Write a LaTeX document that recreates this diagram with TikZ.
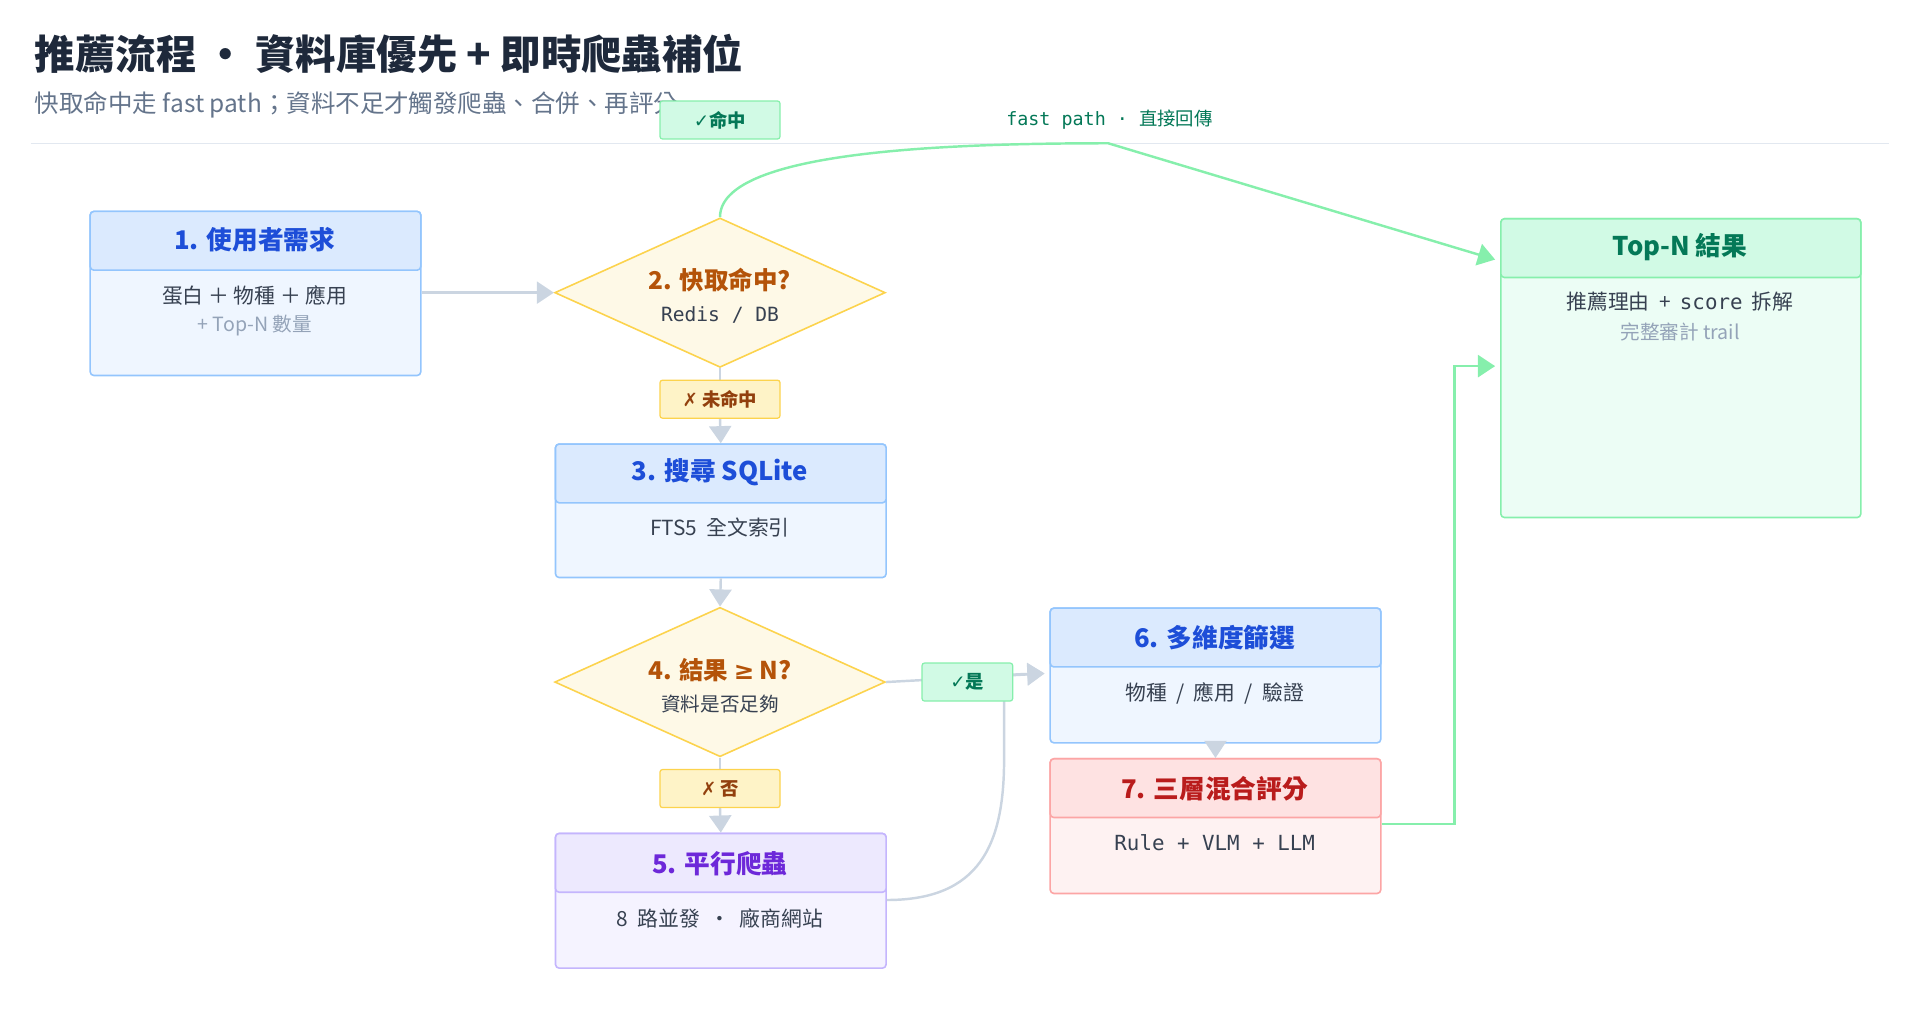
\documentclass[tikz,border=0pt]{standalone}
\usepackage{fontspec}
\setmainfont{Noto Sans CJK TC}
\newfontfamily\monof{DejaVu Sans Mono}
\newfontfamily\symf{DejaVu Sans}
\usetikzlibrary{arrows.meta,shapes.geometric}
\definecolor{bluebd}{HTML}{93C5FD}\definecolor{bluehd}{HTML}{DBEAFE}\definecolor{bluebg}{HTML}{EFF6FF}\definecolor{bluetx}{HTML}{1D4ED8}
\definecolor{purpbd}{HTML}{C4B5FD}\definecolor{purphd}{HTML}{EDE9FE}\definecolor{purpbg}{HTML}{F5F3FF}\definecolor{purptx}{HTML}{6D28D9}
\definecolor{redbd}{HTML}{FCA5A5}\definecolor{redhd}{HTML}{FEE2E2}\definecolor{redbg}{HTML}{FEF2F2}\definecolor{redtx}{HTML}{B91C1C}
\definecolor{grnbd}{HTML}{86EFAC}\definecolor{grnhd}{HTML}{D1FAE5}\definecolor{grnbg}{HTML}{ECFDF5}\definecolor{grntx}{HTML}{047857}
\definecolor{ylwbd}{HTML}{FCD34D}\definecolor{ylwbg}{HTML}{FEF9E7}\definecolor{ylwtag}{HTML}{FEF3C7}\definecolor{ylwtx}{HTML}{B45309}\definecolor{ylwtg}{HTML}{92400E}
\definecolor{ink}{HTML}{1E293B}\definecolor{body}{HTML}{374151}\definecolor{mute}{HTML}{94A3B8}\definecolor{sub}{HTML}{64748B}\definecolor{wire}{HTML}{CBD5E1}\definecolor{rule}{HTML}{E2E8F0}
\begin{document}
\begin{tikzpicture}[x=1pt,y=-1pt,
  box/.style={draw=#1bd, fill=#1bg, line width=1.3pt, rounded corners=3pt, anchor=north west, minimum width=270pt, inner sep=0pt},
  head/.style={draw=#1bd, fill=#1hd, line width=1.3pt, rounded corners=3pt, anchor=north west, minimum width=270pt, minimum height=48pt, inner sep=0pt},
  ttl/.style={text=#1tx, font=\fontsize{21}{24}\selectfont\bfseries},
  txt/.style={text=body, font=\fontsize{17}{20}\selectfont},
  dec/.style={diamond, draw=ylwbd, fill=ylwbg, line width=1.3pt, minimum width=270pt, minimum height=122pt, inner sep=0pt, aspect=2.2},
  tag/.style={draw=#1bd, fill=#1hd, rounded corners=2pt, line width=1pt, minimum width=98pt, minimum height=31pt, inner sep=0pt, font=\fontsize{15}{18}\selectfont\bfseries},
  flow/.style={draw=wire, line width=2pt, -{Triangle[length=14pt,width=18pt]}},
  fast/.style={draw=grnbd, line width=2pt, -{Triangle[length=14pt,width=18pt]}}]
\useasboundingbox (0,0) rectangle (1568,840);
\colorlet{ylwhd}{ylwtag}
% title
\node[anchor=base west, text=ink, font=\fontsize{33}{36}\selectfont\bfseries] at (25,57) {推薦流程 ・ 資料庫優先 + 即時爬蟲補位};
\node[anchor=base west, text=sub, font=\fontsize{20}{24}\selectfont] at (25,92) {快取命中走 fast path；資料不足才觸發爬蟲、合併、再評分};
\draw[rule, line width=1pt] (25,117) -- (1543,117);
% boxes
\node[box=blue, minimum height=134pt] (b1) at (73,172) {};
\node[head=blue] (h1) at (73,172) {};
\node[ttl=blue] at (208,196) {1. 使用者需求};
\node[txt] at (208,241) {蛋白 ＋ 物種 ＋ 應用};
\node[text=mute, font=\fontsize{16}{19}\selectfont] at (208,266) {+ Top-N 數量};
\node[box=blue, minimum height=109pt] (b3) at (453,362) {};
\node[head=blue] (h3) at (453,362) {};
\node[ttl=blue] at (588,386) {3. 搜尋 SQLite};
\node[txt] at (588,431) {FTS5 \ 全文索引};
\node[box=purp, minimum height=110pt] (b5) at (453,680) {};
\node[head=purp] (h5) at (453,680) {};
\node[ttl=purp] at (588,705) {5. 平行爬蟲};
\node[txt] at (588,750) {8 \ 路並發 \ ・ \ 廠商網站};
\node[box=blue, minimum height=110pt] (b6) at (857,496) {};
\node[head=blue] (h6) at (857,496) {};
\node[ttl=blue] at (992,521) {6. 多維度篩選};
\node[txt] at (992,566) {物種 \ / \ 應用 \ / \ 驗證};
\node[box=red, minimum height=110pt] (b7) at (857,619) {};
\node[head=red] (h7) at (857,619) {};
\node[ttl=red] at (992,644) {7. 三層混合評分};
\node[txt, font=\monof\fontsize{17}{20}\selectfont] at (992,688) {Rule + VLM + LLM};
\node[box=grn, minimum width=294pt, minimum height=244pt] (bt) at (1225,178) {};
\node[head=grn, minimum width=294pt] (ht) at (1225,178) {};
\node[ttl=grn] at (1372,202) {Top-N 結果};
\node[txt] at (1372,246) {推薦理由 \ + \ {\monof score} \ 拆解};
\node[text=mute, font=\fontsize{16}{19}\selectfont] at (1372,271) {完整審計 trail};
% decisions
\node[dec] (d2) at (588,239) {};
\node[text=ylwtx, font=\fontsize{20}{23}\selectfont\bfseries] at (588,229) {2. 快取命中?};
\node[txt, font=\monof\fontsize{16}{19}\selectfont] at (588,257) {Redis / DB};
\node[dec] (d4) at (588,557) {};
\node[text=ylwtx, font=\fontsize{20}{23}\selectfont\bfseries] at (588,547) {4. 結果 {\symf ≥} N?};
\node[txt, font=\fontsize{16}{19}\selectfont] at (588,575) {資料是否足夠};
% connectors
\coordinate (fp) at (905,117);
\coordinate (t1) at (1221,212);
\coordinate (t2) at (1221,299);
\draw[flow] (b1.east |- d2) -- (d2.west);
\draw[fast] (d2.north) .. controls (588,125) and (760,117) .. (fp) -- (t1);
\draw[wire, line width=2pt] (d2.south) -- (588,310);
\draw[flow] (588,342) -- (b3.north);
\draw[flow] (b3.south) -- (d4.north);
\draw[wire, line width=2pt] (d4.south) -- (588,628);
\draw[flow] (588,660) -- (b5.north);
\draw[flow] (d4.east) -- (853,550);
\draw[flow] (b5.east |- 0,735) .. controls (800,735) and (820,690) .. (820,620) -- (820,560) .. controls (820,551) .. (853,550);
\draw[flow] (b6.south) -- (b7.north);
\draw[fast] (b7.east |- 0,673) -- (1188,673) -- (1188,299) -- (t2);
% tags
\node[tag=grn, text=grntx] (g1) at (588,98) {{\symf ✓}命中};
\node[text=grntx, font=\monof\fontsize{15}{18}\selectfont] at (906,98) {fast path · {\rmfamily 直接回傳}};
\node[tag=ylw, text=ylwtg] (g2) at (588,326) {{\symf ✗} 未命中};
\node[tag=grn, text=grntx, minimum width=74pt] (g4) at (790,557) {{\symf ✓}是};
\node[tag=ylw, text=ylwtg] (g5) at (588,644) {{\symf ✗} 否};
\end{tikzpicture}
\end{document}
